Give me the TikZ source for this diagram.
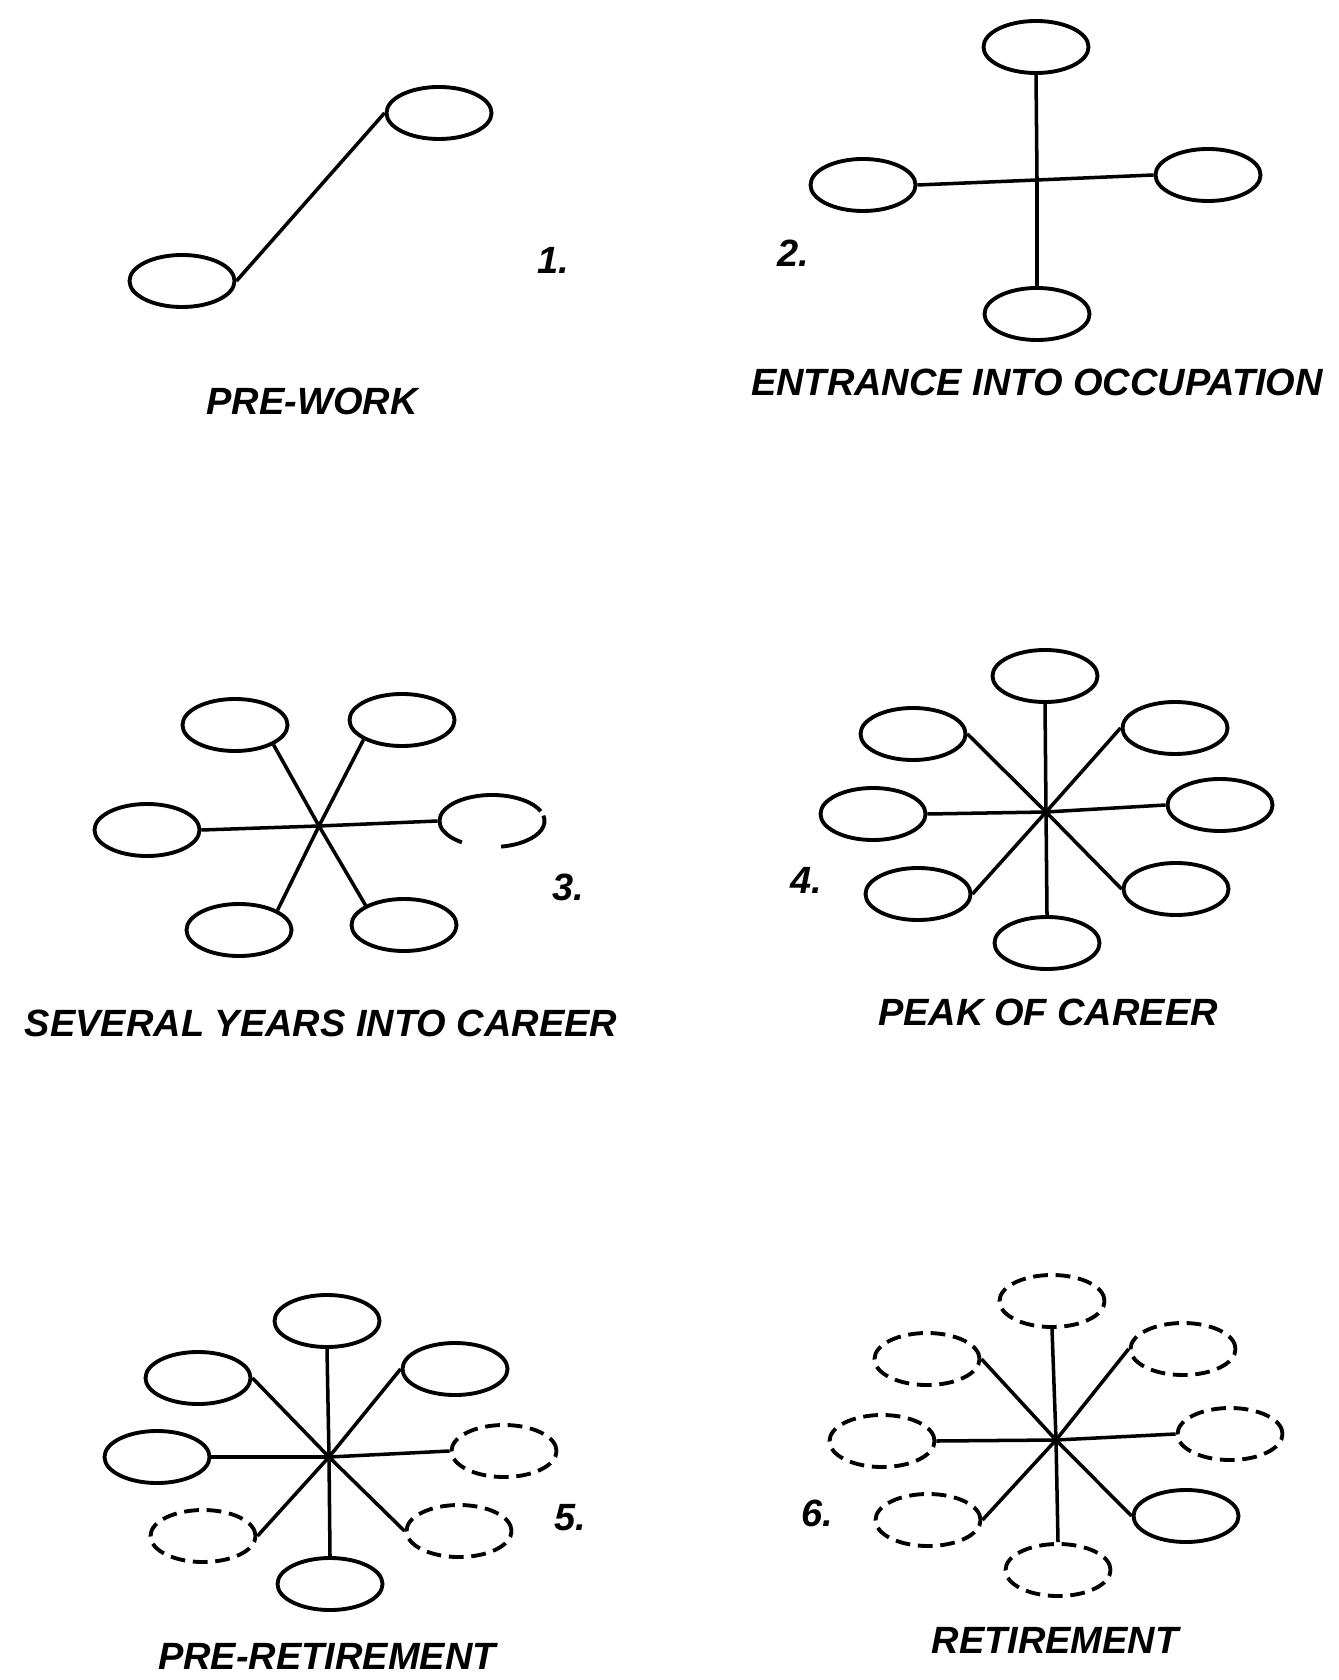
\documentclass[tikz,border=0pt]{standalone}
\usepackage{fontspec}
\setmainfont{Liberation Sans}
\usetikzlibrary{shapes.geometric}
\tikzset{
  role/.style={ellipse, draw, line width=1.1pt, minimum width=1.05cm, minimum height=0.52cm, inner sep=0pt},
  lostrole/.style={role, dash pattern=on 4.2pt off 2.2pt},
  spoke/.style={line width=1pt},
  stage/.style={font=\fontsize{10.8}{13}\selectfont\bfseries\itshape, inner sep=0pt}
}

\begin{document}
\begin{tikzpicture}[x=0.01cm, y=0.01cm]
    \useasboundingbox (0,0) rectangle (1338,-1680);

    % Stage 1
    \node[role] (E1a) at (182,-281) {};
    \node[role] (E1b) at (439,-113) {};
    \draw[spoke] (E1a.east) -- (E1b.west);
    \node[stage] (N1) at (553,-260) {1.};
    \node[stage] (T1) at (312,-401) {PRE-WORK};

    % Stage 2
    \coordinate (H2) at (1037,-180);
    \node[role] (E2n) at (1036,-47) {};
    \node[role] (E2w) at (863,-185) {};
    \node[role] (E2e) at (1208,-175) {};
    \node[role] (E2s) at (1037,-314) {};
    \draw[spoke] (H2) -- (E2n.south);
    \draw[spoke] (H2) -- (E2w.east);
    \draw[spoke] (H2) -- (E2e.west);
    \draw[spoke] (H2) -- (E2s.north);
    \node[stage] (N2) at (793,-253) {2.};
    \node[stage] (T2) at (1037,-382) {ENTRANCE INTO OCCUPATION};

    % Stage 3 (one role still open)
    \coordinate (H3) at (319,-826);
    \node[role] (E3nw) at (235,-725) {};
    \node[role] (E3ne) at (402,-720) {};
    \node[role] (E3w) at (147,-830) {};
    \node[role, draw=none] (E3e) at (492,-821) {};
    \node[role] (E3sw) at (239,-930) {};
    \node[role] (E3se) at (404,-925) {};
    \draw[line width=1.1pt] (E3e.center) ++(280:0.525cm and 0.26cm) arc[start angle=280, end angle=372, x radius=0.525cm, y radius=0.26cm];
    \draw[line width=1.1pt] (E3e.center) ++(22:0.525cm and 0.26cm) arc[start angle=22, end angle=235, x radius=0.525cm, y radius=0.26cm];
    \draw[spoke] (H3) -- (E3nw.south east);
    \draw[spoke] (H3) -- (E3ne.south west);
    \draw[spoke] (H3) -- (E3w.east);
    \draw[spoke] (H3) -- (E3e.west);
    \draw[spoke] (H3) -- (E3sw.north east);
    \draw[spoke] (H3) -- (E3se.north west);
    \node[stage] (N3) at (568,-887) {3.};
    \node[stage] (T3) at (321,-1023) {SEVERAL YEARS INTO CAREER};

    % Stage 4
    \coordinate (H4) at (1046,-812);
    \node[role] (E4n) at (1045,-676) {};
    \node[role] (E4nw) at (913,-734) {};
    \node[role] (E4ne) at (1175,-728) {};
    \node[role] (E4w) at (873,-814) {};
    \node[role] (E4e) at (1220,-805) {};
    \node[role] (E4sw) at (918,-894) {};
    \node[role] (E4se) at (1176,-889) {};
    \node[role] (E4s) at (1047,-943) {};
    \draw[spoke] (H4) -- (E4n.south);
    \draw[spoke] (H4) -- (E4nw.east);
    \draw[spoke] (H4) -- (E4ne.west);
    \draw[spoke] (H4) -- (E4w.east);
    \draw[spoke] (H4) -- (E4e.west);
    \draw[spoke] (H4) -- (E4sw.east);
    \draw[spoke] (H4) -- (E4se.west);
    \draw[spoke] (H4) -- (E4s.north);
    \node[stage] (N4) at (806,-880) {4.};
    \node[stage] (T4) at (1048,-1012) {PEAK OF CAREER};

    % Stage 5 (roles start to drop away)
    \coordinate (H5) at (329,-1457);
    \node[role] (E5n) at (327,-1321) {};
    \node[role] (E5nw) at (198,-1378) {};
    \node[role] (E5ne) at (455,-1369) {};
    \node[role] (E5w) at (157,-1457) {};
    \node[lostrole] (E5e) at (504,-1451) {};
    \node[lostrole] (E5sw) at (203,-1536) {};
    \node[lostrole] (E5se) at (459,-1531) {};
    \node[role] (E5s) at (330,-1584) {};
    \draw[spoke] (H5) -- (E5n.south);
    \draw[spoke] (H5) -- (E5nw.east);
    \draw[spoke] (H5) -- (E5ne.west);
    \draw[spoke] (H5) -- (E5w.east);
    \draw[spoke] (H5) -- (E5e.west);
    \draw[spoke] (H5) -- (E5sw.east);
    \draw[spoke] (H5) -- (E5se.west);
    \draw[spoke] (H5) -- (E5s.north);
    \node[stage] (N5) at (570,-1518) {5.};
    \node[stage] (T5) at (327,-1656) {PRE-RETIREMENT};

    % Stage 6 (one role left)
    \coordinate (H6) at (1056,-1440);
    \node[lostrole] (E6n) at (1052,-1301) {};
    \node[lostrole] (E6nw) at (927,-1359) {};
    \node[lostrole] (E6ne) at (1183,-1349) {};
    \node[lostrole] (E6w) at (882,-1441) {};
    \node[lostrole] (E6e) at (1230,-1434) {};
    \node[lostrole] (E6sw) at (928,-1520) {};
    \node[role] (E6se) at (1186,-1516) {};
    \node[lostrole] (E6s) at (1058,-1570) {};
    \draw[spoke] (H6) -- (E6n.south);
    \draw[spoke] (H6) -- (E6nw.east);
    \draw[spoke] (H6) -- (E6ne.west);
    \draw[spoke] (H6) -- (E6w.east);
    \draw[spoke] (H6) -- (E6e.west);
    \draw[spoke] (H6) -- (E6sw.east);
    \draw[spoke] (H6) -- (E6se.west);
    \draw[spoke] (H6) -- (E6s.north);
    \node[stage] (N6) at (817,-1513) {6.};
    \node[stage] (T6) at (1055,-1640) {RETIREMENT};

\end{tikzpicture}
\end{document}
